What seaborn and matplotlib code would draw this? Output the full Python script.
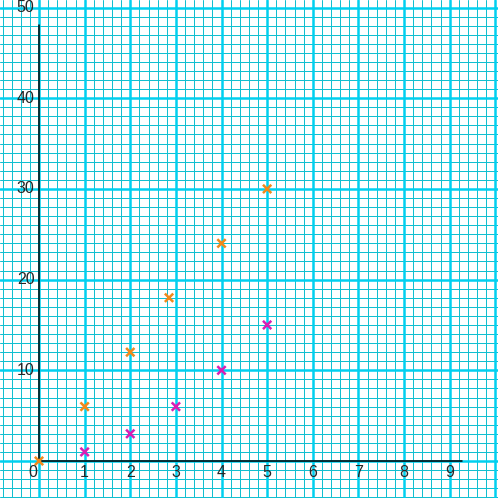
import numpy as np
import pandas as pd
import matplotlib
matplotlib.use("Agg")
import matplotlib.pyplot as plt
import seaborn as sns

# data
orange_x = [0, 1, 2, 2.85, 4, 5]
orange_y = [0, 6, 12, 18, 24, 30]
magenta_x = [1, 2, 3, 4, 5]
magenta_y = [1, 3, 6, 10, 15]
x_ticks = [0, 1, 2, 3, 4, 5, 6, 7, 8, 9]
y_ticks = [10, 20, 30, 40, 50]

df = pd.DataFrame({
    "x": orange_x + magenta_x,
    "y": orange_y + magenta_y,
    "serie": ["a"] * len(orange_x) + ["b"] * len(magenta_x),
})

sns.set_style("white")
plt.rcParams["font.family"] = ["Liberation Sans", "DejaVu Sans"]

fig = plt.figure(figsize=(4.98, 4.98), dpi=100)
ax = fig.add_axes([0, 0, 1, 1])
ax.set_xlim(-0.855, 10.06)
ax.set_ylim(-4.08, 50.83)

# graph paper
for v in np.arange(-0.8, 10.1, 0.2):
    if abs(v - round(v)) > 1e-6:
        ax.axvline(v, color="#12bfd0", lw=0.72, zorder=0, snap=True)
for v in np.arange(-4, 51, 1):
    if v % 10 != 0:
        ax.axhline(v, color="#12bfd0", lw=0.72, zorder=0, snap=True)
for v in range(0, 11):
    ax.axvline(v, color="#00d0f0", lw=1.8, zorder=1)
for v in range(0, 51, 10):
    ax.axhline(v, color="#00d0f0", lw=1.8, zorder=1)

# axes lines
ax.plot([0, 0], [0, 48.1], color="black", lw=1.1, zorder=2)
ax.plot([0, 9.27], [0, 0], color="black", lw=1.1, zorder=2)

sns.scatterplot(data=df, x="x", y="y", hue="serie",
                palette={"a": "#f08a1c", "b": "#d81fb4"},
                marker="x", s=36, linewidth=1.8, legend=False, ax=ax, zorder=3)

for t in x_ticks:
    dx = -0.13 if t == 0 else 0
    ax.text(t + dx, -0.45, str(t), ha="center", va="top", fontsize=11.5)
for t in y_ticks:
    ax.text(-0.1, t, str(t), ha="right", va="center", fontsize=11.5)

ax.set_xlabel("")
ax.set_ylabel("")
ax.set_xticks([])
ax.set_yticks([])
for s in ax.spines.values():
    s.set_visible(False)

fig.savefig("out.png", dpi=100)
